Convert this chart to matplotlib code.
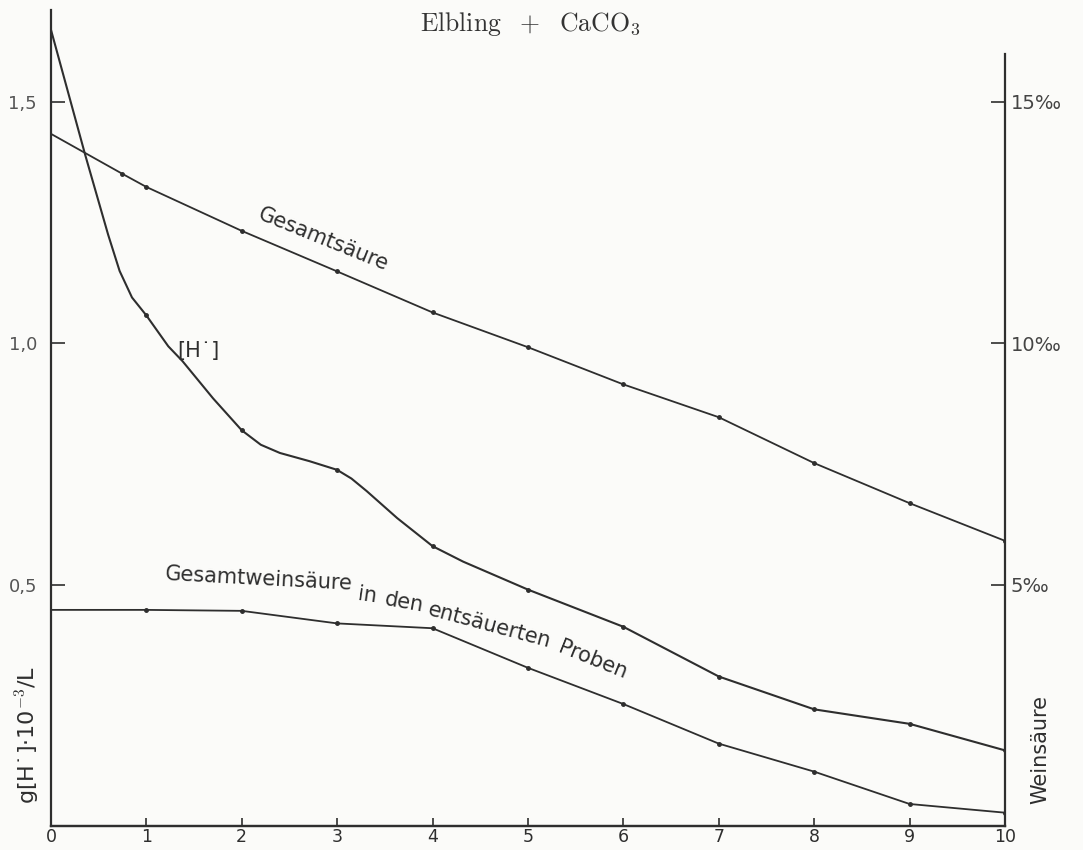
import matplotlib
matplotlib.use("Agg")
import matplotlib.pyplot as plt

# [H'] curve, left axis (g[H']*10^-3/L)
h_x = [0, 0.36, 0.6, 0.72, 0.85, 1, 1.23, 1.38, 1.7, 2, 2.2, 2.4, 2.71, 3, 3.15, 3.31, 3.63, 4, 4.32,
       5, 6, 7, 8, 9, 10]
h_val = [1.65, 1.39, 1.225, 1.15, 1.095, 1.058, 0.994, 0.963, 0.886, 0.82, 0.79, 0.773, 0.756, 0.738,
         0.72, 0.694, 0.638, 0.58, 0.548, 0.49, 0.413, 0.31, 0.242, 0.212, 0.157]
h_marks = [5, 9, 13, 17, 19, 20, 21, 22, 23, 24]

# Gesamtsaeure, right axis (per mille)
gs_x = [0, 0.75, 1, 2, 3, 4, 5, 6, 7, 8, 9, 10]
gs_val = [14.34, 13.51, 13.24, 12.33, 11.49, 10.64, 9.92, 9.15, 8.47, 7.52, 6.69, 5.91]

# Gesamtweinsaeure in den entsaeuerten Proben, right axis (per mille)
ws_x = [0, 1, 2, 3, 4, 5, 6, 7, 8, 9, 10]
ws_val = [4.48, 4.48, 4.46, 4.2, 4.1, 3.28, 2.53, 1.71, 1.13, 0.46, 0.28]

x_ticks = list(range(0, 11))
left_ticks = [0.5, 1.0, 1.5]
left_labels = ["0,5", "1,0", "1,5"]
right_ticks = [5, 10, 15]
right_labels = ["5‰", "10‰", "15‰"]

ink = "#2e2e2e"
plt.rcParams["mathtext.fontset"] = "cm"

fig = plt.figure(figsize=(10.83, 8.5), dpi=100, facecolor="#fbfbf9")
ax = fig.add_axes([0.047, 0.028, 0.881, 0.960])
ax.set_facecolor("none")
ax.set_xlim(0, 10)
ax.set_ylim(0, 1.69)

ax2 = ax.twinx()
ax2.set_ylim(0, 16.9)

ax.plot(h_x, h_val, color=ink, lw=1.5, marker="o", ms=2.5, markevery=h_marks)
ax2.plot(gs_x, gs_val, color=ink, lw=1.3, marker="o", ms=2.5, markevery=list(range(1, 12)))
ax2.plot(ws_x, ws_val, color=ink, lw=1.3, marker="o", ms=2.5, markevery=list(range(1, 11)))

for a in (ax, ax2):
    a.spines["top"].set_visible(False)
    for side in ("left", "right", "bottom"):
        a.spines[side].set_color(ink)
        a.spines[side].set_linewidth(1.6)
ax2.spines["right"].set_bounds(0, 16.0)
ax.spines["right"].set_visible(False)
ax2.spines["left"].set_visible(False)

ax.set_xticks(x_ticks)
ax.set_xticklabels([str(t) for t in x_ticks])
ax.set_yticks(left_ticks)
ax.set_yticklabels(left_labels)
ax2.set_yticks(right_ticks)
ax2.set_yticklabels(right_labels)
ax.tick_params(axis="x", direction="in", length=6, width=1.2, color=ink, labelsize=12.5,
               labelcolor=ink, pad=1)
ax.tick_params(axis="y", direction="in", length=10, width=1.2, color=ink, labelsize=13,
               labelcolor="#555555", pad=10)
ax2.tick_params(axis="y", direction="in", length=10, width=1.2, color=ink, labelsize=14,
                labelcolor="#444444", pad=4)

# title
fig.text(0.49, 0.972, r"$\mathrm{Elbling}\ \ +\ \ \mathrm{CaCO_3}$", ha="center", va="center",
         fontsize=18.5, color="#333333")

# curve labels
lab_kw = dict(color=ink, ha="center", va="center", family="DejaVu Sans Condensed",
              fontsize=15)
ax.text(2.86, 1.215, "Gesamtsäure", rotation=-22, **lab_kw)
ax.text(1.55, 0.985, "[H˙]", rotation=0, color=ink, ha="center", va="center",
        family="DejaVu Sans Condensed", fontsize=15)
ax.text(2.18, 0.512, "Gesamtweinsäure", rotation=-3, **lab_kw)
ax.text(3.32, 0.479, "in", rotation=-8, **lab_kw)
ax.text(3.70, 0.464, "den", rotation=-10, **lab_kw)
ax.text(4.60, 0.416, "entsäuerten", rotation=-15, **lab_kw)
ax.text(5.68, 0.344, "Proben", rotation=-22, **lab_kw)

# axis titles
fig.text(0.026, 0.135, "g[H˙]·10$^{-3}$/L", rotation=90, ha="center", va="center",
         fontsize=16, color=ink, family="DejaVu Sans Condensed")
fig.text(0.961, 0.118, "Weinsäure", rotation=90, ha="center", va="center",
         fontsize=15, color=ink, family="DejaVu Sans")

fig.savefig("out.png", dpi=100, facecolor=fig.get_facecolor())
